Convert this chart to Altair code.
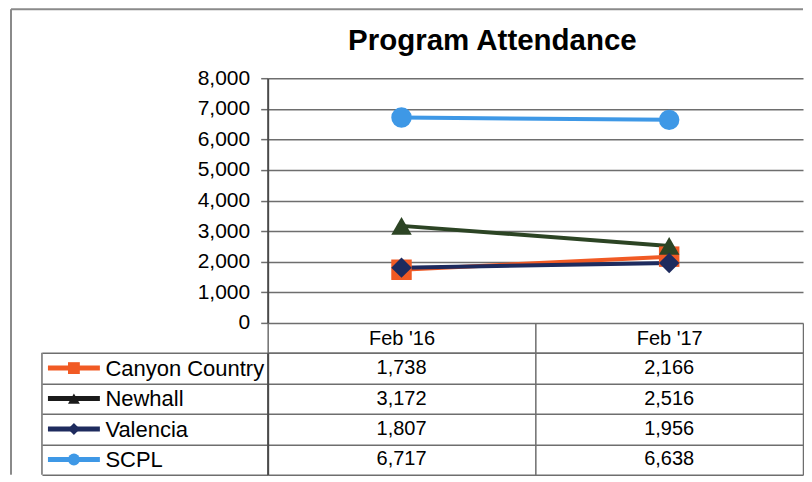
import altair as alt
import pandas as pd

# ---- data ----
series = ["Canyon Country", "Newhall", "Valencia", "SCPL"]
months = ["Feb '16", "Feb '17"]
feb16 = [1738, 3172, 1807, 6717]
feb17 = [2166, 2516, 1956, 6638]
y_ticks = [0, 1000, 2000, 3000, 4000, 5000, 6000, 7000, 8000]
title_text = ["Program Attendance"]

line_colors = ["#F15A24", "#2C4424", "#1E2B5E", "#3E98E6"]
legend_colors = ["#F15A24", "#1A1A1A", "#1E2B5E", "#3E98E6"]
shapes = ["square", "triangle-up", "diamond", "circle"]

rows = []
for s, a, b in zip(series, feb16, feb17):
    rows.append({"series": s, "month": months[0], "value": a})
    rows.append({"series": s, "month": months[1], "value": b})
df = pd.DataFrame(rows)
df["label"] = df["value"].map(lambda v: f"{v:,}")
leg = pd.DataFrame({"series": series})
one = pd.DataFrame({"t": title_text})

W = 536
H_TOP = 245
H_BOT = 122
FONT = "Liberation Sans"
GRID = "#6e6e6e"
AXIS = "#4a4a4a"

# ---- top: line chart ----
x_top = alt.X("month:N", scale=alt.Scale(type="point", domain=months, padding=0.5), axis=None)
y_top = alt.Y(
    "value:Q",
    scale=alt.Scale(domain=[0, 8000], nice=False),
    axis=alt.Axis(
        values=y_ticks, format=",.0f", title=None,
        labelFont=FONT, labelFontSize=21, labelColor="#000000", labelPadding=11,
        tickSize=7, tickColor=GRID, tickWidth=1.5,
        grid=True, gridColor=GRID, gridWidth=1.5,
        domainColor=AXIS, domainWidth=2,
    ),
)
color_top = alt.Color("series:N", scale=alt.Scale(domain=series, range=line_colors), legend=None)
shape_enc = alt.Shape("series:N", scale=alt.Scale(domain=series, range=shapes), legend=None)

lines = alt.Chart(df).mark_line(strokeWidth=4).encode(x=x_top, y=y_top, color=color_top)
points = alt.Chart(df).mark_point(filled=True, opacity=1, size=420).encode(
    x=x_top, y=y_top, color=color_top, shape=shape_enc
)
title = alt.Chart(one).mark_text(
    font=FONT, fontSize=29.5, fontWeight="bold", color="#000000", align="center", baseline="middle"
).encode(x=alt.value(225), y=alt.value(-37), text="t:N")
frame_top = alt.Chart(one).mark_rule(color="#8a8a8a", strokeWidth=2).encode(
    x=alt.value(-257), x2=alt.value(W), y=alt.value(-69)
)
frame_left_top = alt.Chart(one).mark_rule(color="#8a8a8a", strokeWidth=2).encode(
    x=alt.value(-257), y=alt.value(-69), y2=alt.value(H_TOP)
)

top = alt.layer(frame_top, frame_left_top, title, lines, points).properties(width=W, height=H_TOP)

# ---- bottom: data table ----
x_bot = alt.X(
    "month:N",
    scale=alt.Scale(type="band", domain=months, paddingInner=0, paddingOuter=0),
    axis=alt.Axis(
        orient="top", title=None, labelAngle=0,
        tickBand="extent", tickSize=30, tickColor=GRID, tickWidth=1.5,
        labelPadding=-16, labelBaseline="middle",
        labelFont=FONT, labelFontSize=20, labelColor="#000000",
        domainColor=GRID, domainWidth=1.5,
        grid=True, gridColor=GRID, gridWidth=1.5,
    ),
)
y_bot = alt.Y(
    "series:N",
    scale=alt.Scale(type="band", domain=series, paddingInner=0, paddingOuter=0),
    axis=alt.Axis(
        title=None, tickBand="extent", tickSize=226, tickColor=GRID, tickWidth=1.5,
        labelAlign="left", labelPadding=-63, labelBaseline="middle",
        labelFont=FONT, labelFontSize=22, labelColor="#000000",
        domainColor=AXIS, domainWidth=2,
        grid=True, gridColor=GRID, gridWidth=1.5,
    ),
)
values_txt = alt.Chart(df).mark_text(font=FONT, fontSize=20, color="#000000").encode(
    x=x_bot, y=y_bot, text="label:N"
)
color_leg = alt.Color("series:N", scale=alt.Scale(domain=series, range=legend_colors), legend=None)
leg_lines = alt.Chart(leg).mark_rule(strokeWidth=5).encode(
    x=alt.value(-220), x2=alt.value(-168),
    y=alt.Y("series:N", bandPosition=0.5), color=color_leg,
)
leg_pts = alt.Chart(leg).mark_point(filled=True, opacity=1, size=140).encode(
    x=alt.value(-194), y=alt.Y("series:N"), color=color_leg,
    shape=alt.Shape("series:N", scale=alt.Scale(domain=series, range=shapes), legend=None),
)
left_border = alt.Chart(one).mark_rule(color=GRID, strokeWidth=1.5).encode(
    x=alt.value(-226), y=alt.value(0), y2=alt.value(H_BOT)
)
frame_left_bot = alt.Chart(one).mark_rule(color="#8a8a8a", strokeWidth=2).encode(
    x=alt.value(-257), y=alt.value(-30), y2=alt.value(H_BOT)
)

bottom = alt.layer(values_txt, left_border, frame_left_bot, leg_lines, leg_pts).properties(
    width=W, height=H_BOT
)

chart = (
    alt.vconcat(top, bottom, spacing=30, bounds="flush")
    .resolve_scale(x="independent", y="independent", color="independent", shape="independent")
    .properties(padding={"left": 2, "top": 0, "right": 0, "bottom": 0}, background="white")
    .configure_view(stroke=None)
)

chart.save("out.html", embed_options={"renderer": "svg", "actions": False})
